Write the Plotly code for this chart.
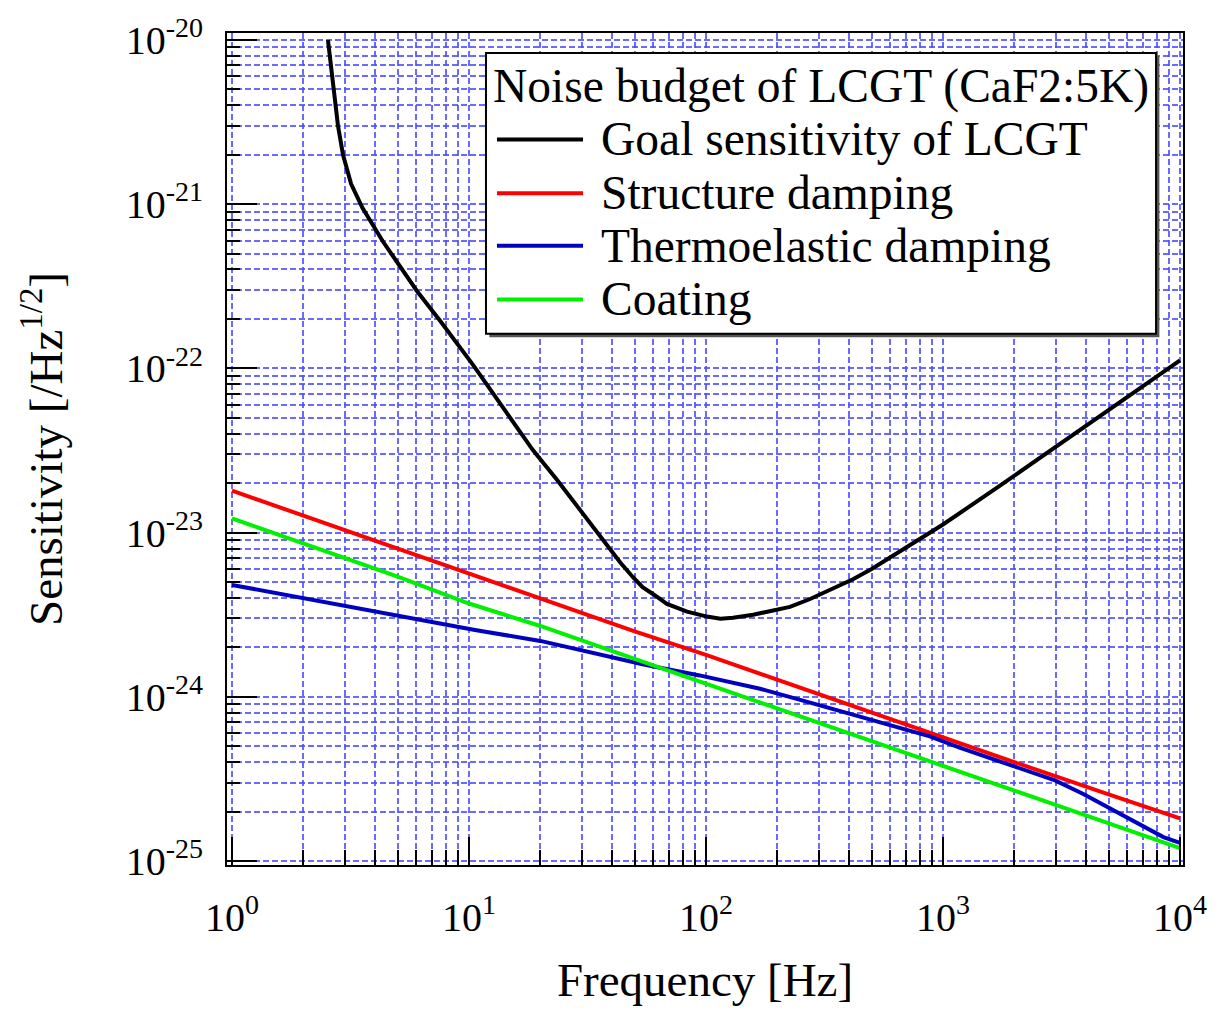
import plotly.graph_objects as go

# Frequency [Hz] and sensitivity [/Hz^(1/2)] for each noise curve
goal_freq = [2.54, 2.64, 2.80, 2.94, 3.18, 3.55, 4.34, 6.04, 7.55, 10.4, 13.5, 18.6,
             23.5, 32.4, 43.4, 49.2, 54, 59.7, 68.4, 83.2, 101, 115, 130, 158, 226, 275,
             417, 500, 659, 1000, 1740, 2830, 4600, 7470, 10000]
goal_sens = [1.0e-20, 6.0e-21, 3.0e-21, 2.0e-21, 1.33e-21, 9.5e-22, 5.9e-22, 2.95e-22,
             1.95e-22, 1.05e-22, 6.1e-23, 3.18e-23, 2.1e-23, 1.15e-23, 6.6e-24, 5.35e-24,
             4.65e-24, 4.23e-24, 3.68e-24, 3.3e-24, 3.08e-24, 2.99e-24, 3.03e-24, 3.16e-24,
             3.53e-24, 3.94e-24, 5.2e-24, 6.0e-24, 7.7e-24, 1.12e-23, 1.93e-23, 3.15e-23,
             5.14e-23, 8.3e-23, 1.12e-22]

struct_freq = [1, 2, 5, 10, 20, 50, 100, 200, 500, 1000, 2000, 5000, 10000]
struct_sens = [1.8e-23, 1.27e-23, 8.0e-24, 5.6e-24, 4.0e-24, 2.5e-24, 1.8e-24, 1.27e-24,
               8.0e-25, 5.7e-25, 4.0e-25, 2.55e-25, 1.82e-25]

thermo_freq = [1, 2, 5, 10.6, 20, 54, 94, 169, 300, 500, 880, 1175, 1975, 2970, 3890,
               5970, 8510, 10000]
thermo_sens = [4.8e-24, 4.0e-24, 3.1e-24, 2.55e-24, 2.19e-24, 1.58e-24, 1.35e-24, 1.12e-24,
               8.9e-25, 7.2e-25, 5.75e-25, 4.9e-25, 3.8e-25, 3.1e-25, 2.57e-25, 1.85e-25,
               1.40e-25, 1.29e-25]

coat_freq = [1, 2, 5, 10, 20, 50, 100, 200, 500, 1000, 2000, 5000, 10000]
coat_sens = [1.22e-23, 8.6e-24, 5.4e-24, 3.7e-24, 2.7e-24, 1.7e-24, 1.2e-24, 8.5e-25,
             5.4e-25, 3.8e-25, 2.7e-25, 1.7e-25, 1.2e-25]

series = [
    ("Goal sensitivity of LCGT", goal_freq, goal_sens, "#000000"),
    ("Structure damping", struct_freq, struct_sens, "#ff0000"),
    ("Thermoelastic damping", thermo_freq, thermo_sens, "#0000c0"),
    ("Coating", coat_freq, coat_sens, "#00f000"),
]
legend_title = "Noise budget of LCGT (CaF2:5K)"

x_decades = [0, 1, 2, 3, 4]
y_decades = [-25, -24, -23, -22, -21, -20]

FONT = "Liberation Serif, Times New Roman, serif"
GRID = "rgba(80,80,255,0.85)"
LW = 4

fig = go.Figure()
for name, f, s, color in series:
    fig.add_trace(go.Scatter(x=f, y=s, mode="lines", name=name, showlegend=False,
                             line=dict(color=color, width=LW)))

x_major = [10.0 ** e for e in x_decades]
x_minor = [m * 10.0 ** e for e in x_decades[:-1] for m in range(2, 10)]
y_major = [10.0 ** e for e in y_decades]
y_minor = [m * 10.0 ** e for e in y_decades[:-1] for m in range(2, 10)]

common = dict(
    type="log", showline=True, linecolor="black", linewidth=2, mirror=True,
    ticks="inside", tickcolor="black", tickwidth=2,
    showgrid=True, gridcolor=GRID, gridwidth=1.5, griddash="6px,3px",
    zeroline=False, tickfont=dict(family=FONT, size=40, color="black"),
)
minor_common = dict(ticks="inside", tickcolor="black", tickwidth=1.5, showgrid=True,
                    gridcolor=GRID, gridwidth=1.5, griddash="6px,3px")

fig.update_xaxes(
    **common,
    range=[-0.0211, 4.0127],
    tickmode="array", tickvals=x_major,
    ticktext=[f"10<sup>{e}</sup>" for e in x_decades],
    ticklen=28, ticklabelstandoff=16,
    minor=dict(tickmode="array", tickvals=x_minor, ticklen=15, **minor_common),
    title=dict(text="Frequency [Hz]", font=dict(family=FONT, size=47, color="black"),
               standoff=24),
)
fig.update_yaxes(
    **common,
    range=[-25.024, -19.958],
    tickmode="array", tickvals=y_major,
    ticktext=[f"10<sup>{e}</sup>" for e in y_decades],
    ticklen=30, ticklabelstandoff=14,
    minor=dict(tickmode="array", tickvals=y_minor, ticklen=13, **minor_common),
    title=dict(text="Sensitivity [/Hz<sup>1/2</sup>]",
               font=dict(family=FONT, size=47, color="black"), standoff=48),
)

# Legend panel drawn in paper coordinates: shadow, framed box, title, swatches, labels
L_X0, L_X1, L_YTOP, L_YBOT = 0.2709, 0.9718, 0.9760, 0.6384
SH_DX, SH_DY = 0.0035, 0.0040
shapes = [
    dict(type="rect", xref="paper", yref="paper", layer="above",
         x0=L_X0 + SH_DX, x1=L_X1 + SH_DX, y0=L_YBOT - SH_DY, y1=L_YTOP - SH_DY,
         fillcolor="#555555", line=dict(width=0)),
    dict(type="rect", xref="paper", yref="paper", layer="above",
         x0=L_X0, x1=L_X1, y0=L_YBOT, y1=L_YTOP,
         fillcolor="white", line=dict(color="black", width=2)),
]
annotations = [
    dict(text=legend_title, xref="paper", yref="paper", x=0.2760, y=0.9360,
         xanchor="left", yanchor="middle", showarrow=False,
         font=dict(family=FONT, size=47.5, color="black")),
]
row_y = [0.8720, 0.8075, 0.7443, 0.6798]
for (name, _, _, color), ry in zip(series, row_y):
    shapes.append(dict(type="line", xref="paper", yref="paper", layer="above",
                       x0=0.2824, x1=0.3724, y0=ry, y1=ry,
                       line=dict(color=color, width=LW)))
    annotations.append(dict(text=name, xref="paper", yref="paper", x=0.3895, y=ry,
                            xanchor="left", yanchor="middle", showarrow=False,
                            font=dict(family=FONT, size=47.5, color="black")))

fig.update_layout(
    width=1220, height=1013,
    margin=dict(l=227, r=37, t=27, b=148),
    paper_bgcolor="white", plot_bgcolor="white",
    font=dict(family=FONT, color="black"),
    showlegend=False,
    shapes=shapes,
    annotations=annotations,
)

fig.write_html("out.html")
